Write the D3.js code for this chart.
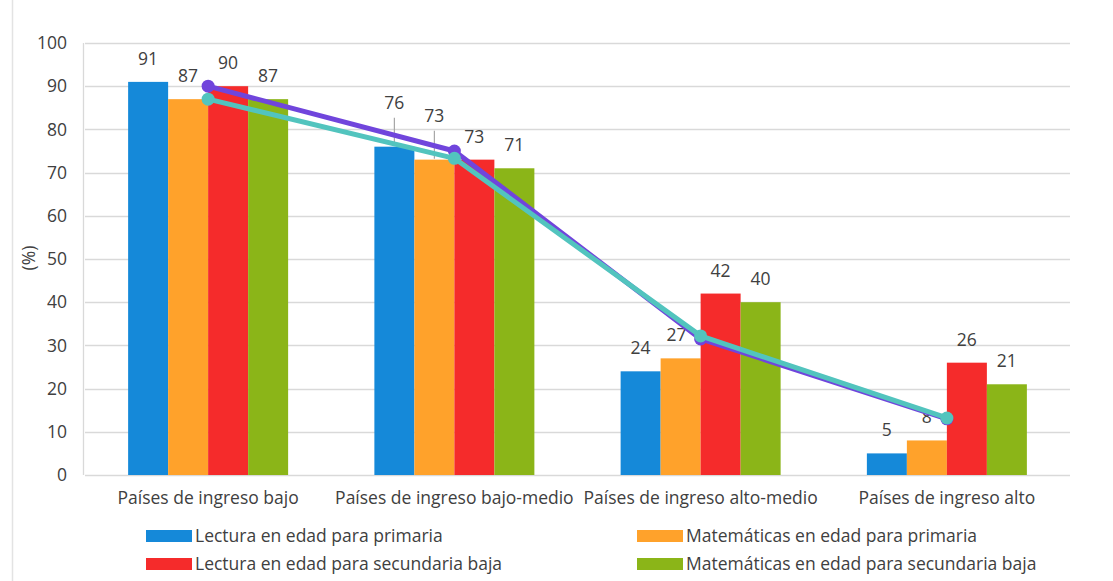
<!DOCTYPE html>
<html><head><meta charset="utf-8">
<script src="https://cdn.jsdelivr.net/npm/d3@7"></script>
<style>body{margin:0;background:#fff;} text{font-family:"Open Sans",sans-serif;fill:#404040;}</style>
</head><body><svg id="chart" width="1113" height="581"></svg>
<script>
const categories = ["Países de ingreso bajo","Países de ingreso bajo-medio","Países de ingreso alto-medio","Países de ingreso alto"];
const seriesNames = ["Lectura en edad para primaria","Matemáticas en edad para primaria","Lectura en edad para secundaria baja","Matemáticas en edad para secundaria baja"];
const lecturaPrimaria = [91,76,24,5];
const matematicasPrimaria = [87,73,27,8];
const lecturaSecundaria = [90,73,42,26];
const matematicasSecundaria = [87,71,40,21];
const lineaLectura = [90,75,31.5,13];
const lineaMatematicas = [87,73.3,32.2,13.2];
const yTicks = [0,10,20,30,40,50,60,70,80,90,100];
const colors = ["#1589d9","#ffa22b","#f52b2b","#8bb518"];
const lineColors = ["#7045dc","#52c4be"];

const FS = "17.5px";
const series = [lecturaPrimaria, matematicasPrimaria, lecturaSecundaria, matematicasSecundaria];
const svg = d3.select("#chart");
const m = {l:85, r:1070, t:43, b:475};
const x = d3.scaleBand().domain(categories).range([m.l, m.r]);
const xs = d3.scaleBand().domain(d3.range(4)).range([0,160]);
const bw = x.bandwidth();
const y = d3.scaleLinear().domain([0,100]).range([m.b, m.t]);

// left border
svg.append("line").attr("x1",12.5).attr("x2",12.5).attr("y1",0).attr("y2",581).attr("stroke","#e3e3e3").attr("stroke-width",1.5);

// grid
svg.append("g").selectAll("line").data(yTicks).join("line")
  .attr("x1",m.l).attr("x2",m.r).attr("y1",d=>Math.round(y(d))+0.5).attr("y2",d=>Math.round(y(d))+0.5)
  .attr("stroke","#d9d9d9").attr("stroke-width",1.3);
svg.append("line").attr("x1",m.l-1.5).attr("x2",m.l-1.5).attr("y1",m.t).attr("y2",m.b).attr("stroke","#d9d9d9").attr("stroke-width",1.3);

// y axis labels
const yAxis = d3.axisLeft(y).tickValues(yTicks).tickSize(0).tickPadding(18);
const gy = svg.append("g").attr("transform",`translate(${m.l},0)`).call(yAxis);
gy.select(".domain").remove();
gy.selectAll("text").style("font-size",FS).attr("fill","#404040").attr("font-family","Open Sans, sans-serif");

svg.append("text").attr("transform","translate(35,258) rotate(-90)").attr("text-anchor","middle")
  .style("font-size",FS).text("(%)");

// bars
const gx = (ci)=> x(categories[ci]) + (bw-160)/2;
series.forEach((s,si)=>{
  svg.append("g").selectAll("rect").data(s).join("rect")
    .attr("x",(d,ci)=>gx(ci)+xs(si)).attr("width",xs.bandwidth())
    .attr("y",d=>y(d)).attr("height",d=>y(0)-y(d)).attr("fill",colors[si]);
});

// labels
const special = {"1-0":{dy:-44,leader:true},"1-1":{dy:-44,leader:true},"2-1":{dx:-4}};
series.forEach((s,si)=>{
  s.forEach((d,ci)=>{
    const sp = special[ci+"-"+si] || {};
    const cx = gx(ci)+xs(si)+xs.bandwidth()/2 + (sp.dx||0);
    const top = y(d);
    const dy = sp.dy || -23;
    if(sp.leader){
      svg.append("line").attr("x1",cx).attr("x2",cx).attr("y1",top+dy+15).attr("y2",top-1)
        .attr("stroke","#a6a6a6").attr("stroke-width",1.2);
    }
    svg.append("text").attr("x",cx).attr("y",top+dy+6).attr("text-anchor","middle")
      .style("font-size",FS).text(d);
  });
});

// lines
const lx = (ci)=> x(categories[ci]) + bw/2;
[lineaLectura, lineaMatematicas].forEach((vals,li)=>{
  const line = d3.line().x((d,i)=>lx(i)).y(d=>y(d));
  svg.append("path").datum(vals).attr("d",line).attr("fill","none")
    .attr("stroke",lineColors[li]).attr("stroke-width",5).attr("stroke-linejoin","round");
  svg.append("g").selectAll("circle").data(vals).join("circle")
    .attr("cx",(d,i)=>lx(i)).attr("cy",d=>y(d)).attr("r",6.5).attr("fill",lineColors[li]);
});

// x labels
const ax = d3.axisBottom(x).tickSize(0).tickPadding(17);
const gxa = svg.append("g").attr("transform",`translate(0,${m.b})`).call(ax);
gxa.select(".domain").remove();
gxa.selectAll("text").style("font-size",FS).attr("fill","#404040").attr("font-family","Open Sans, sans-serif");

// legend
const legPos = [[146,536],[637,536],[146,564],[637,564]];
seriesNames.forEach((n,i)=>{
  const [lx0,ly0] = legPos[i];
  svg.append("rect").attr("x",lx0).attr("y",ly0-6).attr("width",46).attr("height",12).attr("fill",colors[i]);
  svg.append("text").attr("x",lx0+49).attr("y",ly0+6).style("font-size",FS).text(n);
});
</script></body></html>
